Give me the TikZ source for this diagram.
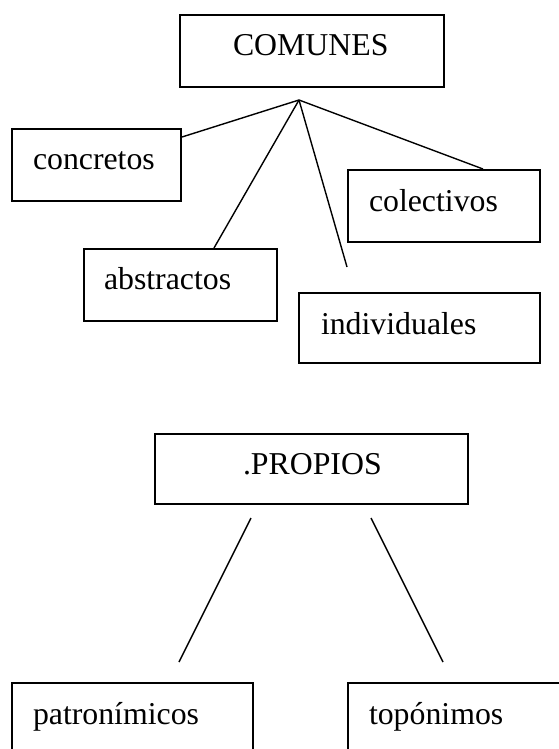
\documentclass[tikz,border=0pt]{standalone}
\usepackage{fontspec}
\setmainfont{Liberation Serif}
\usetikzlibrary{positioning}

\tikzset{
  box/.style={draw, line width=2pt, anchor=north west, align=left,
    inner ysep=0pt, font=\fontsize{31.8}{38}\selectfont},
  twig/.style={line width=1.4pt}
}

\begin{document}
\begin{tikzpicture}[x=1pt, y=-1pt]
\useasboundingbox (0,0) rectangle (559,749);
\clip (0,0) rectangle (559,749);
% comunes
\node[box, inner xsep=53pt, text width=158pt, text height=41pt, text depth=31pt] (com) at (179,14) {COMUNES};
\node[box, inner xsep=21pt, text width=127pt, text height=40pt, text depth=32pt] (con) at (11,128) {concretos};
\node[box, inner xsep=20pt, text width=153pt, text height=40pt, text depth=32pt] (abs) at (83,248) {abstractos};
\node[box, inner xsep=21pt, text width=150pt, text height=41pt, text depth=31pt] (col) at (347,169) {colectivos};
\node[box, inner xsep=22pt, text width=197pt, text height=41pt, text depth=29pt] (ind) at (298,292) {individuales};
\coordinate (apex) at (299,100);
\coordinate (indtip) at (347,267);
\draw[twig] (apex) -- ([yshift=-9pt]con.north east);
\draw[twig] (apex) -- ([xshift=131pt]abs.north west);
\draw[twig] (apex) -- ([xshift=136pt]col.north west);
\draw[twig] (apex) -- (indtip);
% propios
\node[box, inner xsep=88pt, text width=137pt, text height=40pt, text depth=30pt] (pro) at (154,433) {.PROPIOS};
\node[box, inner xsep=21pt, text width=199pt, text height=41pt, text depth=40pt] (pat) at (11,682) {patronímicos};
\node[box, inner xsep=21pt, text width=190pt, text height=41pt, text depth=40pt] (topo) at (347,682) {topónimos};
\coordinate (pl) at (251,518);
\coordinate (pltip) at (179,662);
\coordinate (pr) at (371,518);
\coordinate (prtip) at (443,662);
\draw[twig] (pl) -- (pltip);
\draw[twig] (pr) -- (prtip);
\end{tikzpicture}
\end{document}
